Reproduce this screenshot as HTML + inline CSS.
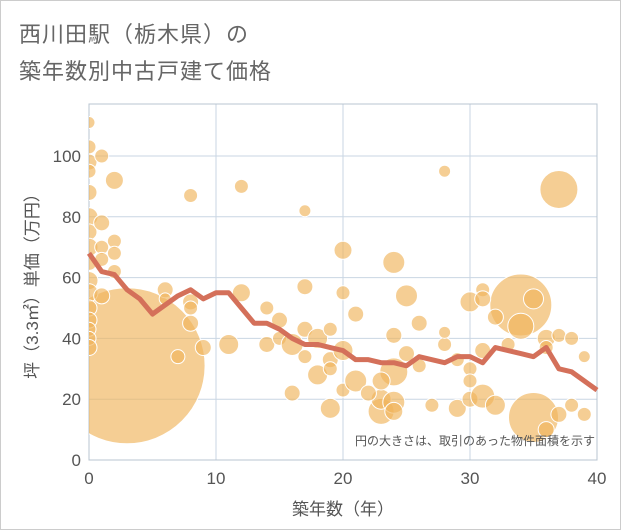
<!DOCTYPE html>
<html><head><meta charset="utf-8"><style>
body{margin:0;background:#fff;font-family:"Liberation Sans","Noto Sans CJK JP",sans-serif;}
#wrap{position:relative;width:619px;height:528px;border:1px solid #ccc;background:#fff;}
.title{position:absolute;left:18px;font-size:22px;color:#666;letter-spacing:1px;}
svg{position:absolute;left:0;top:0;}
</style></head><body>
<div id="wrap">
<div class="title" style="top:16px">西川田駅（栃木県）の</div>
<div class="title" style="top:53px">築年数別中古戸建て価格</div>
<svg id="c" width="621" height="530"></svg>
</div>
<script>
const bubbleX=[3,34,35,37,0,0,0,0,0,0,0,0,0,0,0,0,0,0,0,0,1,1,1,1,1,2,2,2,2,6,6,7,8,8,8,9,8,12,12,11,14,14,15,15,16,16,17,17,17,17,18,18,19,19,19,19,20,20,20,21,21,23,23,24,24,24,24,25,25,26,26,27,28,28,29,29,30,30,30,30,31,31,31,31,32,32,33,34,35,36,36,36,37,37,38,38,39,39,28,24,22,23,20];
const bubbleY=[31,51,14,89,111,103,98,95,88,80,75,70,65,59,55,50,46,43,40,37,100,78,70,66,54,92,72,68,62,56,53,34,87,52,45,37,50,90,55,38,50,38,46,40,38,22,82,57,43,34,40,28,43,33,30,17,69,55,23,48,26,16,20,65,41,29,19,54,35,45,31,18,95,38,17,33,52,30,26,20,56,53,36,21,47,18,38,44,53,40,37,10,41,15,40,18,34,15,42,16,22,26,36];
const bubbleR=[78,31,25,19,6,7,8,7,8,9,8,9,8,9,9,8,8,7,7,8,7,8,7,7,8,9,7,7,7,8,6,7,7,8,8,8,7,7,9,10,7,8,8,7,11,8,6,8,8,7,10,10,7,8,7,10,9,7,7,8,11,13,10,11,8,14,11,11,8,8,7,7,6,7,9,7,10,7,7,8,7,8,8,12,8,10,7,13,10,9,7,8,7,8,7,7,6,7,6,9,8,9,10];
const avgX=[0,1,2,3,4,5,6,7,8,9,10,11,12,13,14,15,16,17,18,19,20,21,22,23,24,25,26,27,28,29,30,31,32,33,34,35,36,37,38,39,40];
const avgY=[68,62,61,56,53,48,51,54,56,53,55,55,50,45,45,43,40,38,38,37,36,33,33,32,32,31,34,33,32,34,34,32,37,36,35,34,37,30,29,26,23];
const xTicks=[0,10,20,30,40];
const yTicks=[0,20,40,60,80,100];
const L=88,R=596,T=103,B=459;
const sx=v=>L+(v/40)*(R-L);
const sy=v=>B-(v/100)*(B-155);
const NS="http://www.w3.org/2000/svg";
const svg=document.getElementById('c');
function mk(t,a,p){const e=document.createElementNS(NS,t);for(const k in a)e.setAttribute(k,a[k]);(p||svg).appendChild(e);return e;}
const clip=mk('clipPath',{id:'pc'});mk('rect',{x:L,y:T,width:R-L,height:B-T},clip);
xTicks.forEach(v=>{const g=mk('line',{x1:sx(v),x2:sx(v),y1:T,y2:B,stroke:'#c9d6e3','stroke-width':1});


const t=mk('text',{x:sx(v),y:B+24,'text-anchor':'middle','font-size':17,fill:'#555'});t.textContent=v;

});
yTicks.forEach(v=>{const g=mk('line',{x1:L,x2:R,y1:sy(v),y2:sy(v),stroke:'#c9d6e3','stroke-width':1});


const t=mk('text',{x:L-8,y:sy(v)+6,'text-anchor':'end','font-size':17,fill:'#555'});t.textContent=v;

});
const fr=mk('rect',{x:L,y:T,width:R-L,height:B-T,fill:'none',stroke:'#b8c4d0'});


const bg=mk('g',{'clip-path':'url(#pc)'});
bubbleX.forEach((x,i)=>{const c=mk('circle',{cx:sx(x),cy:sy(bubbleY[i]),r:bubbleR[i],fill:'rgba(240,180,90,0.65)',stroke:'#fff','stroke-width':1},bg);

});
const pl=mk('polyline',{points:avgX.map((x,i)=>sx(x)+','+sy(avgY[i])).join(' '),fill:'none',stroke:'#d4705a','stroke-width':5,'stroke-linejoin':'round'});


const n=mk('text',{x:594,y:444,'text-anchor':'end','font-size':12,fill:'#555'});n.textContent='円の大きさは、取引のあった物件面積を示す';


const xt=mk('text',{x:(L+R)/2,y:514,'text-anchor':'middle','font-size':17,fill:'#555'});xt.textContent='築年数（年）';


const yt=mk('text',{x:0,y:0,'text-anchor':'middle','font-size':17,fill:'#555',transform:'translate(37,'+((T+B)/2)+') rotate(-90)'});yt.textContent='坪（3.3㎡）単価（万円）';


</script>
</body></html>
